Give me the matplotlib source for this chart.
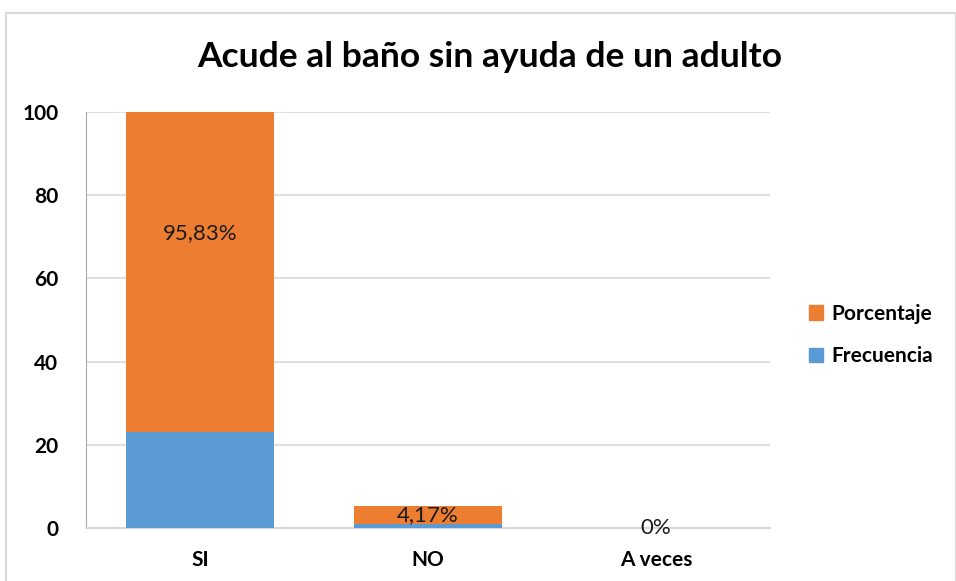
import matplotlib
matplotlib.use("Agg")
import matplotlib.pyplot as plt
import numpy as np
from matplotlib.patches import Rectangle, Patch

categorias = ["SI", "NO", "A veces"]
frecuencia = [23, 1, 0]
porcentaje = [95.83, 4.17, 0]
etiquetas = ["95,83%", "4,17%", "0%"]

AZUL = "#5B9BD5"
NARANJA = "#ED7D31"

plt.rcParams["font.family"] = ["Lato", "DejaVu Sans"]

fig = plt.figure(figsize=(9.56, 5.81), dpi=100)
ax = fig.add_axes([86 / 956, 1 - 528 / 581, (770 - 86) / 956, (528 - 112) / 581])

x = np.arange(len(categorias))
ax.bar(x, frecuencia, 0.645, color=AZUL, zorder=3)
ax.bar(x, porcentaje, 0.645, bottom=frecuencia, color=NARANJA, zorder=3)

# étiquettes au centre du segment orange (comme Excel)
for i, txt in enumerate(etiquetas):
    yc = frecuencia[i] + porcentaje[i] / 2
    ax.text(x[i], yc, txt, ha="center", va="center", fontsize=16, color="#1a1a1a", zorder=4)

ax.set_xlim(-0.5, len(categorias) - 0.5)
ax.set_ylim(0, 100)
ax.set_yticks(range(0, 101, 20))
ax.set_xticks(x)
ax.set_xticklabels(categorias, fontsize=15, fontweight="bold")
for lab in ax.get_yticklabels():
    lab.set_fontsize(15)
    lab.set_fontweight("bold")
ax.tick_params(axis="both", length=0)
ax.tick_params(axis="y", pad=20)
ax.tick_params(axis="x", pad=16)
ax.grid(axis="y", color="#d9d9d9", linewidth=1.2, zorder=0)
for s in ["top", "right"]:
    ax.spines[s].set_visible(False)
ax.spines["left"].set_color("#a6a6a6")
ax.spines["bottom"].set_color("#d9d9d9")
ax.spines["bottom"].set_linewidth(1.5)

fig.text(490 / 956, 1 - 57 / 581, "Acude al baño sin ayuda de un adulto",
         ha="center", va="center", fontsize=25.5, fontweight="bold")

poignees = [Patch(color=NARANJA), Patch(color=AZUL)]
leg = fig.legend(poignees, ["Porcentaje", "Frecuencia"], loc="center left",
                 bbox_to_anchor=(790 / 956, 1 - 335 / 581), frameon=False,
                 prop={"size": 15, "weight": "bold"}, handlelength=0.7,
                 handleheight=0.7, handletextpad=0.4, labelspacing=1.1)

# cadre du graphique
fig.patches.append(Rectangle((6 / 956, -0.01), 950 / 956, 1 - 13 / 581 + 0.01,
                             transform=fig.transFigure, fill=False,
                             edgecolor="#d9d9d9", linewidth=1.5))

fig.savefig("out.png", dpi=100)
